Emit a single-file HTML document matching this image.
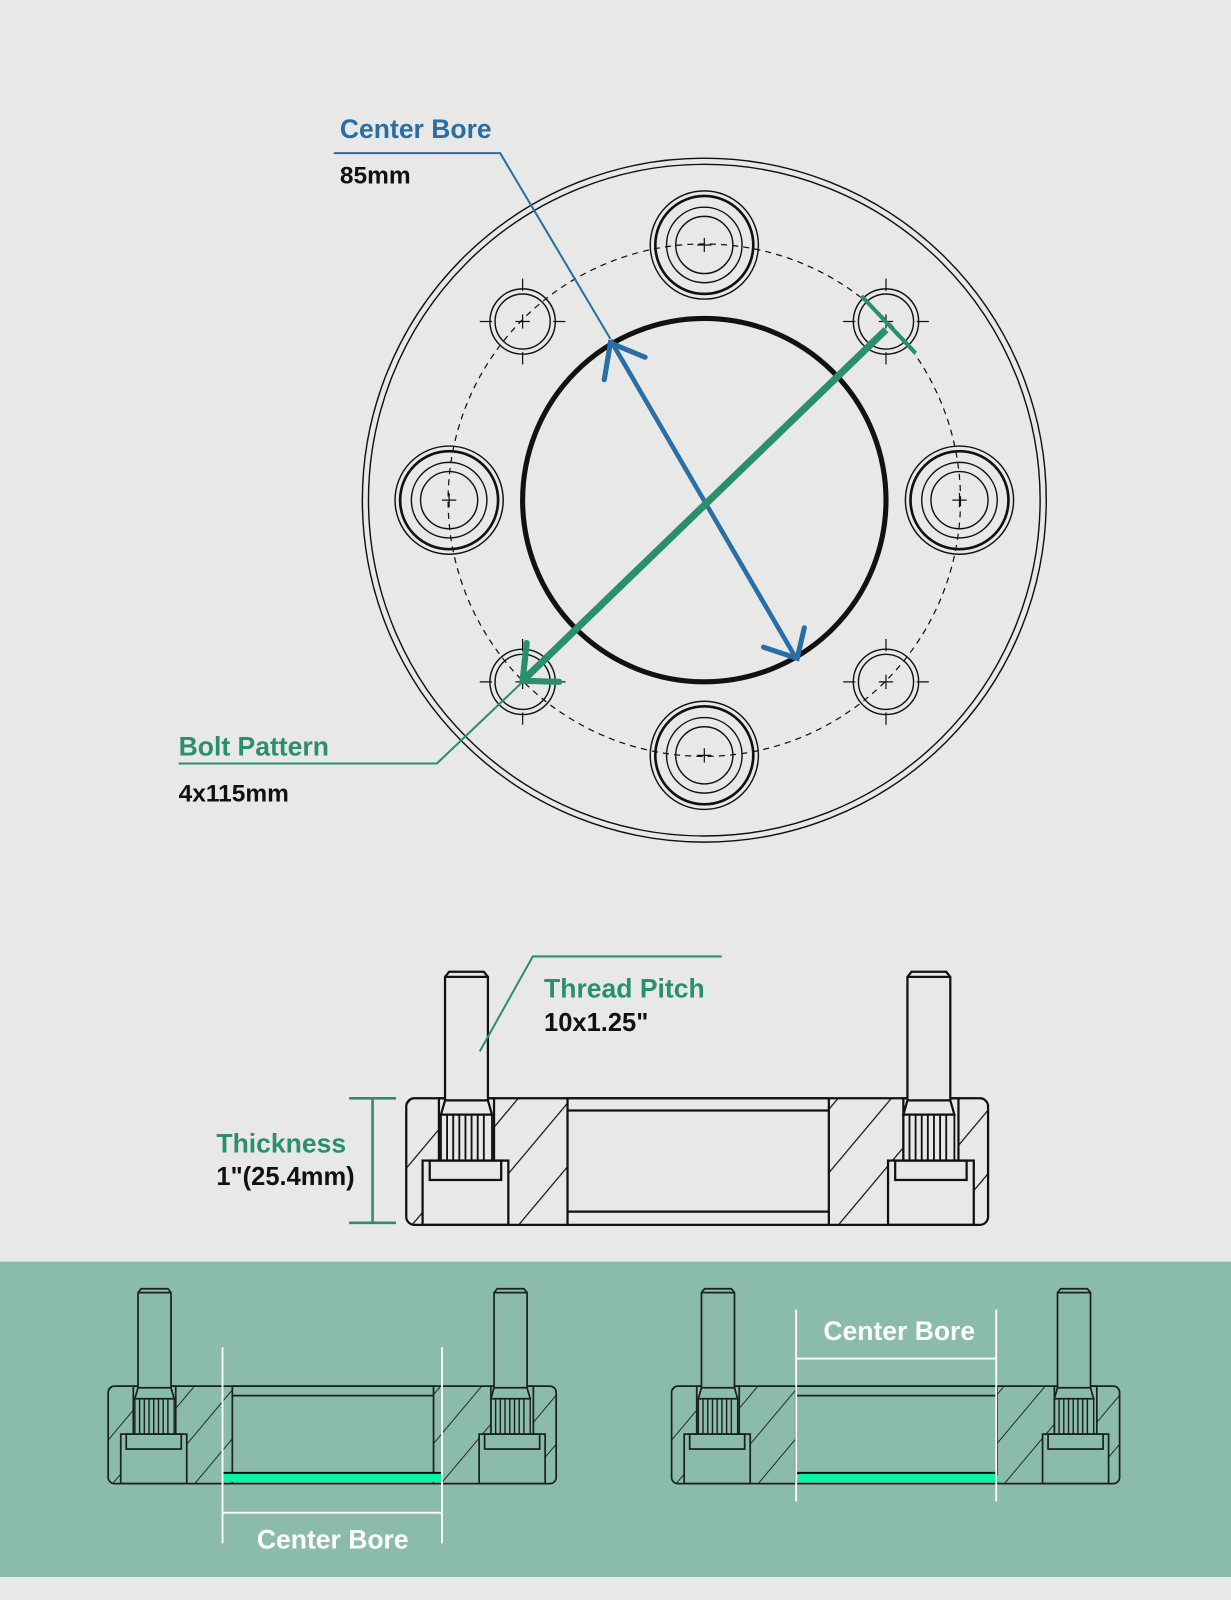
<!DOCTYPE html>
<html><head><meta charset="utf-8"><style>
html,body{margin:0;padding:0;background:#e8e8e6;}
svg{display:block}
text{font-family:"Liberation Sans",sans-serif;font-weight:bold}
</style></head><body>
<svg width="1231" height="1600" viewBox="0 0 1206 1567.5" xmlns="http://www.w3.org/2000/svg">
<defs>
<pattern id="hatch" patternUnits="userSpaceOnUse" width="40" height="40" patternTransform="rotate(40)">
<line x1="0" y1="0" x2="0" y2="40" stroke="#111" stroke-width="2.4"/>
</pattern>
<g id="sv" stroke="#111" stroke-width="2.2" fill="none">
  <rect x="398" y="1076" width="158" height="124" fill="url(#hatch)" stroke="none"/>
  <rect x="812" y="1076" width="156" height="124" fill="url(#hatch)" stroke="none"/>
  <rect x="430" y="1076" width="54" height="62" style="fill:var(--bg)"/>
  <rect x="414" y="1137" width="84" height="63" style="fill:var(--bg)"/>
  <rect x="885" y="1076" width="54" height="62" style="fill:var(--bg)"/>
  <rect x="870" y="1137" width="84" height="63" style="fill:var(--bg)"/>
  <rect x="398" y="1076" width="570" height="124" rx="8"/>
  <rect x="556" y="1076" width="256" height="124" style="fill:var(--bg)"/>
  <line x1="556" y1="1088" x2="812" y2="1088"/>
  <line x1="556" y1="1187" x2="812" y2="1187"/>
  <path d="M436 1078 V957 l4 -5 h34 l4 5 V1078" style="fill:var(--bg)"/>
  <line x1="436" y1="957" x2="478" y2="957"/>
  <path d="M436 1078 h42 l4 14 h-50 z" style="fill:var(--bg)"/>
  <path d="M432 1092 V1137 M482 1092 V1137 M438 1092V1137 M444 1092V1137 M450 1092V1137 M456 1092V1137 M462 1092V1137 M468 1092V1137 M474 1092V1137" stroke-width="1.8"/>
  <rect x="421" y="1137" width="70" height="19"/>
  <path d="M889 1078 V957 l4 -5 h34 l4 5 V1078" style="fill:var(--bg)"/>
  <line x1="889" y1="957" x2="931" y2="957"/>
  <path d="M889 1078 h42 l4 14 h-50 z" style="fill:var(--bg)"/>
  <path d="M885 1092 V1137 M935 1092 V1137 M891 1092V1137 M897 1092V1137 M903 1092V1137 M909 1092V1137 M915 1092V1137 M921 1092V1137 M927 1092V1137" stroke-width="1.8"/>
  <rect x="877" y="1137" width="70" height="19"/>
</g>
</defs>

<rect width="1206" height="1568" fill="#e8e8e6"/>

<g fill="none" stroke="#111">
  <circle cx="690" cy="490" r="335" stroke-width="1.4"/>
  <circle cx="690" cy="490" r="329" stroke-width="1.4"/>
  <circle cx="690" cy="490" r="251" stroke-width="1.2" stroke-dasharray="6 5"/>
  <circle cx="690" cy="490" r="178" stroke-width="5"/>
  <g id="bs">
    <circle cx="690" cy="240" r="53" stroke-width="1.4"/>
    <circle cx="690" cy="240" r="48" stroke-width="2.6"/>
    <circle cx="690" cy="240" r="37" stroke-width="1.4"/>
    <circle cx="690" cy="240" r="28" stroke-width="1.4"/>
    <path d="M683 240h14M690 233v14" stroke-width="1.2"/>
  </g>
  <use href="#bs" transform="translate(0,500)"/>
  <use href="#bs" transform="translate(-250,250)"/>
  <use href="#bs" transform="translate(250,250)"/>
  <g id="sh">
    <circle cx="512" cy="315" r="32" stroke-width="1.4"/>
    <circle cx="512" cy="315" r="27" stroke-width="1.4"/>
    <path d="M470 315h12M542 315h12M512 273v12M512 345v12M505 315h14M512 308v14" stroke-width="1.2"/>
  </g>
  <use href="#sh" transform="translate(356,0)"/>
  <use href="#sh" transform="translate(0,353)"/>
  <use href="#sh" transform="translate(356,353)"/>
</g>

<path d="M327 150 H490 L598 332" fill="none" stroke="#2a6ea6" stroke-width="2"/>
<line x1="598" y1="333" x2="780" y2="645" stroke="#2a6ea6" stroke-width="4.5"/>
<path d="M592 372 L598 336 L632 350" fill="none" stroke="#2a6ea6" stroke-width="5" stroke-linecap="round"/>
<path d="M788 615 L781 645 L748 634" fill="none" stroke="#2a6ea6" stroke-width="5" stroke-linecap="round"/>
<text x="333" y="135" font-size="26" fill="#2a6ea6">Center Bore</text>
<text x="333" y="180" font-size="24" fill="#111">85mm</text>

<path d="M175 748 H428 L512 668" fill="none" stroke="#2a8f6c" stroke-width="2"/>
<line x1="868" y1="323" x2="512" y2="667" stroke="#2a8f6c" stroke-width="7"/>
<line x1="844" y1="290" x2="897" y2="346" stroke="#2a8f6c" stroke-width="4"/>
<path d="M516 630 L512 667 L548 668" fill="none" stroke="#2a8f6c" stroke-width="6" stroke-linecap="round"/>
<text x="175" y="740" font-size="26" fill="#2a8f6c">Bolt Pattern</text>
<text x="175" y="785" font-size="24" fill="#111">4x115mm</text>

<use href="#sv" style="--bg:#e8e8e6"/>
<path d="M470 1030 L522 937 H707" fill="none" stroke="#2a8f6c" stroke-width="2"/>
<text x="533" y="977" font-size="26" fill="#2a8f6c">Thread Pitch</text>
<text x="533" y="1010" font-size="25" fill="#111">10x1.25"</text>
<path d="M342 1076 H388 M365 1076 V1198 M342 1198 H388" stroke="#2a8f6c" stroke-width="2.5" fill="none"/>
<text x="212" y="1129" font-size="26" fill="#2a8f6c">Thickness</text>
<text x="212" y="1161" font-size="25" fill="#111">1"(25.4mm)</text>

<rect x="0" y="1236" width="1206" height="309" fill="#8bbbaa"/>
<use href="#sv" style="--bg:#8bbbaa" transform="translate(-200.5,529.5) scale(0.77)" opacity="0.9"/>
<use href="#sv" style="--bg:#8bbbaa" transform="translate(351.5,529.5) scale(0.77)" opacity="0.9"/>
<rect x="218" y="1443" width="215" height="9" fill="#05f5a8"/>
<line x1="218" y1="1443" x2="433" y2="1443" stroke="#111" stroke-width="2"/>
<path d="M780 1452 L784 1443 H976 L980 1452 Z" fill="#05f5a8"/>
<line x1="780" y1="1443" x2="976" y2="1443" stroke="#111" stroke-width="2"/>
<g stroke="#fff" stroke-width="1.8">
  <path d="M218 1320 V1512 M433 1320 V1512 M218 1482 H433"/>
  <path d="M780 1283 V1471 M976 1283 V1471 M780 1331 H976"/>
</g>
<text x="326" y="1517" font-size="26" fill="#fff" text-anchor="middle">Center Bore</text>
<text x="881" y="1313" font-size="26" fill="#fff" text-anchor="middle">Center Bore</text>
<rect x="0" y="1545" width="1206" height="23" fill="#e8e8e6"/>
</svg>
</body></html>
